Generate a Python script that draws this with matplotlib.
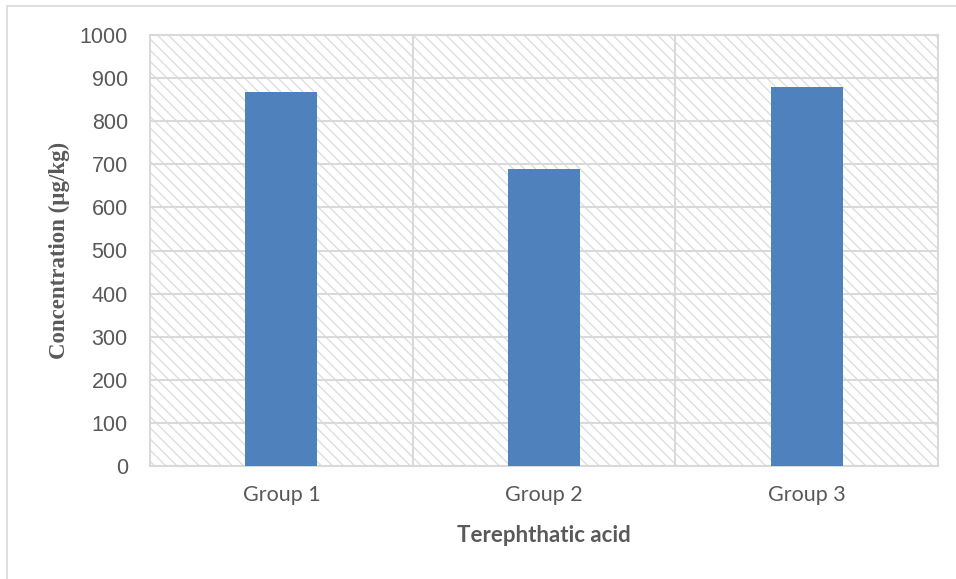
import matplotlib
matplotlib.use("Agg")
import matplotlib.pyplot as plt
from matplotlib.patches import Rectangle

categories = ["Group 1", "Group 2", "Group 3"]
values = [868, 690, 880]
yticks = [0, 100, 200, 300, 400, 500, 600, 700, 800, 900, 1000]

plt.rcParams['hatch.color'] = '#dedede'
plt.rcParams['hatch.linewidth'] = 1.0

fig = plt.figure(figsize=(9.56, 5.79), dpi=100)
# outer frame (chart area border)
fig.patches.append(Rectangle((7/956, -0.1), 1.2, (579-6)/579 + 0.1, transform=fig.transFigure,
                             fill=False, edgecolor='#d9d9d9', linewidth=1.2))

ax = fig.add_axes([150/956, (579-466)/579, (938-150)/956, (466-35)/579])
ax.patch.set_facecolor('white')
ax.patch.set_hatch('\\' * 3)
ax.patch.set_edgecolor('#dedede')

x = list(range(len(categories)))
ax.bar(x, values, width=0.275, color='#4f81bd', zorder=3)

ax.set_xlim(-0.5, len(categories) - 0.5)
ax.set_ylim(0, 1000)
ax.set_yticks(yticks)
ax.set_yticklabels([str(t) for t in yticks], fontfamily='Liberation Sans', fontsize=15.5, color='#595959')
ax.set_xticks(x)
ax.set_xticklabels(categories, fontfamily='Lato', fontsize=15.5, color='#595959')
ax.tick_params(axis='y', length=0, pad=16)
ax.tick_params(axis='x', length=0, pad=14)

ax.yaxis.grid(True, color='#d9d9d9', linewidth=1.5, zorder=1)
ax.set_axisbelow(True)
for b in [0.5, 1.5]:
    ax.axvline(b, color='#d9d9d9', linewidth=1.5, zorder=1)
for s in ax.spines.values():
    s.set_color('#d9d9d9')
    s.set_linewidth(1.5)

ax.set_ylabel("Concentration (µg/kg)", fontfamily='Liberation Serif', fontweight='bold',
              fontsize=16.5, color='#595959', labelpad=7)
ax.set_xlabel("Terephthatic acid", fontfamily='Lato', fontweight='bold', fontsize=16,
              color='#595959', labelpad=14)

fig.savefig("out.png", dpi=100)
